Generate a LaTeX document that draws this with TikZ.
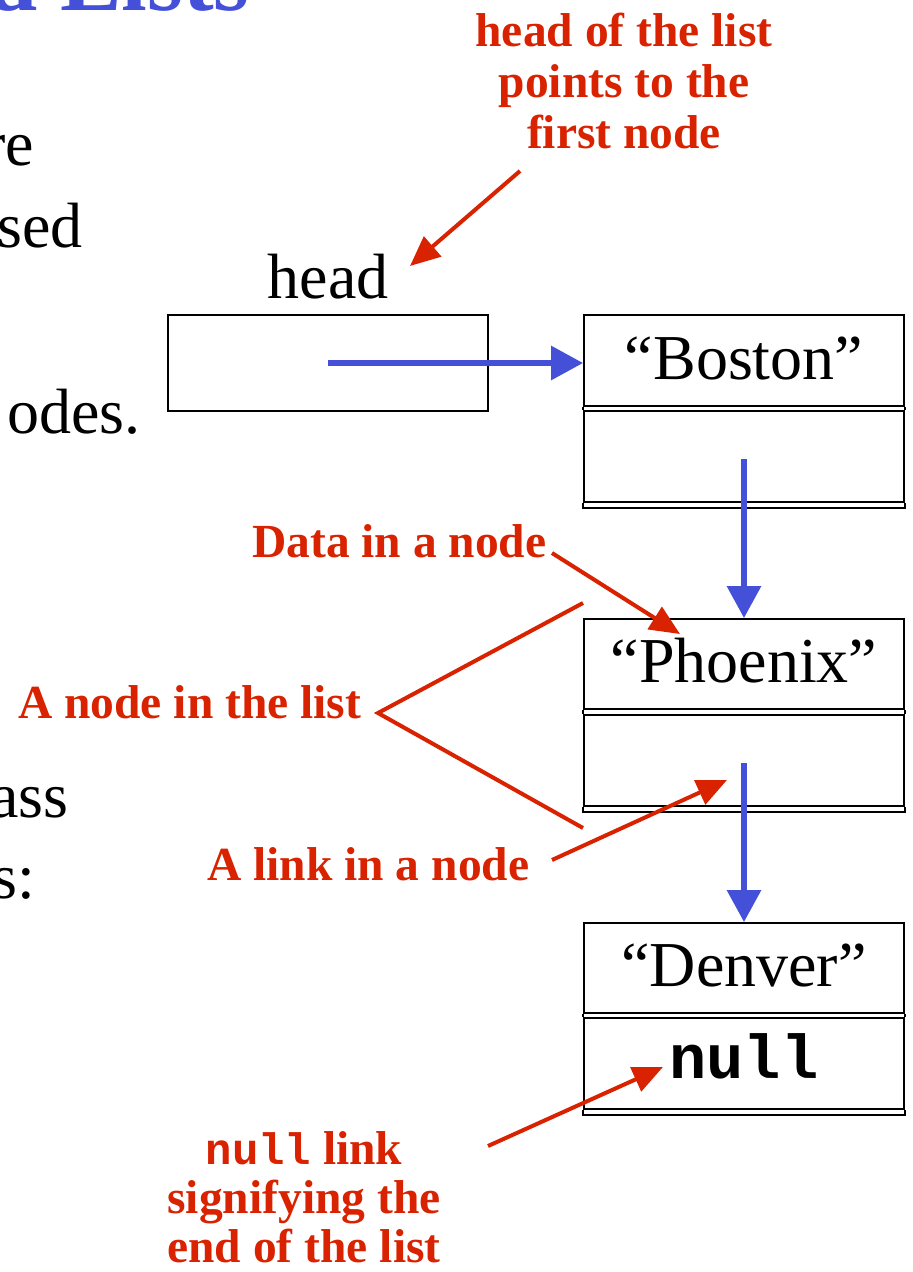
\documentclass[tikz,border=0pt]{standalone}
\usepackage{fontspec}
\setmainfont{Liberation Serif}
\newfontfamily\monofont{Liberation Mono}
\usetikzlibrary{arrows.meta}
\definecolor{slideblue}{RGB}{68,80,216}
\definecolor{slidered}{RGB}{216,34,0}
\tikzset{
  boxline/.style={draw=black, line width=1.8pt},
  cell/.style={boxline, minimum width=320pt, inner sep=0pt},
  big/.style={font=\fontsize{64}{74}\selectfont, inner sep=0pt},
  note/.style={text=slidered, font=\fontsize{47.5}{51}\selectfont\bfseries, inner sep=0pt, align=center},
  redline/.style={draw=slidered, line width=4pt},
  redarrow/.style={redline, -{Triangle[length=30pt,width=26pt]}},
  bluearrow/.style={draw=slideblue, line width=6pt, -{Triangle[length=32pt,width=33pt]}},
}
\begin{document}
\begin{tikzpicture}[x=1pt,y=-1pt]
\useasboundingbox (0,0) rectangle (913,1272);

% partial slide title and body text
\node[anchor=base east, inner sep=0pt, text=slideblue, font=\bfseries\fontsize{92}{100}\selectfont] (title) at (250,10) {d Lists};
\node[big, anchor=base east] (t1) at (34,165) {re};
\node[big, anchor=base east] (t2) at (83,247) {sed};
\node[big, anchor=base east] (t3) at (141,433) {odes.};
\node[big, anchor=base east] (t4) at (69,817) {ass};
\node[big, anchor=base east] (t5) at (35,898) {s:};

% head reference
\node[big, anchor=base] (headlbl) at (328,298) {head};
\node[cell, minimum height=96pt] (headbox) at (328,363) {};

% Boston
\node[cell, minimum height=91pt] (bdata) at (744,360.5) {};
\node[cell, minimum height=91pt] (blink) at (744,456.5) {};
\draw[boxline] (bdata.south west) -- (blink.north west) (bdata.south east) -- (blink.north east);
\draw[boxline] (blink.south west) -- ++(0,5) -- ([yshift=-5pt]blink.south east) -- (blink.south east);
\node[big, anchor=base] (bostxt) at (744,379) {“Boston”};

% Phoenix
\node[cell, minimum height=90pt] (pdata) at (744,664) {};
\node[cell, minimum height=91pt] (plink) at (744,760.5) {};
\draw[boxline] (pdata.south west) -- (plink.north west) (pdata.south east) -- (plink.north east);
\draw[boxline] (plink.south west) -- ++(0,5) -- ([yshift=-5pt]plink.south east) -- (plink.south east);
\node[big, anchor=base] (phxtxt) at (744,682) {“Phoenix”};

% Denver
\node[cell, minimum height=90pt] (ddata) at (744,968) {};
\node[cell, minimum height=91pt] (dlink) at (744,1063.5) {};
\draw[boxline] (ddata.south west) -- (dlink.north west) (ddata.south east) -- (dlink.north east);
\draw[boxline] (dlink.south west) -- ++(0,5) -- ([yshift=-5pt]dlink.south east) -- (dlink.south east);
\node[big, anchor=base] (dentxt) at (744,986) {“Denver”};
\node[anchor=base, inner sep=0pt, font=\monofont\bfseries\fontsize{62}{70}\selectfont] (nulltxt) at (744,1078) {null};

% blue links
\coordinate (hs) at (328,363);
\coordinate (bs) at (744,459);
\coordinate (ps) at (744,763);
\draw[bluearrow] (hs) -- (hs -| bdata.west);
\draw[bluearrow] (bs) -- (pdata.north);
\draw[bluearrow] (ps) -- (ddata.north);

% red annotations
\node[note, anchor=north] (headnote) at (624,13) {head of the list\\points to the\\first node};
\node[note, anchor=base west] (datanote) at (252,557) {Data in a node};
\node[note, anchor=base west] (nodenote) at (18,718) {A node in the list};
\node[note, anchor=base west] (linknote) at (207,880) {A link in a node};
\node[note, anchor=north, font=\fontsize{47.5}{49}\selectfont\bfseries] (nullnote) at (304,1131) {{\monofont\fontsize{44}{49}\selectfont null} link\\signifying the\\end of the list};

\coordinate (h1) at (520,171);
\coordinate (h2) at (410,266);
\draw[redarrow] (h1) -- (h2);

\coordinate (d1) at (552,553);
\coordinate (d2) at (680,634);
\draw[redarrow] (d1) -- (d2);

\coordinate (c1) at (583,603);
\coordinate (cv) at (378,713);
\coordinate (c2) at (583,828);
\draw[redline] (c1) -- (cv) -- (c2);

\coordinate (l1) at (552,860);
\coordinate (l2) at (727,780);
\draw[redarrow] (l1) -- (l2);

\coordinate (n1) at (488,1146);
\coordinate (n2) at (663,1067);
\draw[redarrow] (n1) -- (n2);
\end{tikzpicture}
\end{document}
